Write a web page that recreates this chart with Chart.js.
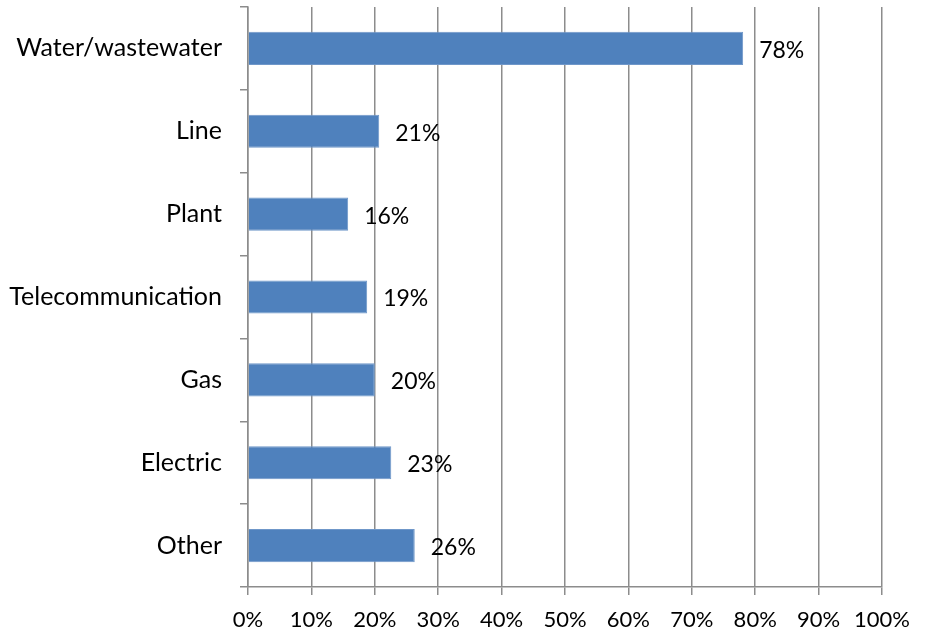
<!DOCTYPE html>
<html>
<head>
<meta charset="utf-8">
<script src="https://cdn.jsdelivr.net/npm/chart.js@4"></script>
<style>
  html, body { margin: 0; padding: 0; background: #fff; }
  #wrap { width: 929px; height: 635px; }
</style>
</head>
<body>
<div id="wrap"><canvas id="myChart"></canvas></div>
<script>
// data
const categories = ['Water/wastewater', 'Line', 'Plant', 'Telecommunication', 'Gas', 'Electric', 'Other'];
const percentValues = [78.1, 20.7, 15.8, 18.8, 20.0, 22.6, 26.3];
const percentLabels = ['78%', '21%', '16%', '19%', '20%', '23%', '26%'];
const xTicks = [0, 10, 20, 30, 40, 50, 60, 70, 80, 90, 100];

const fontFamily = 'Lato, "Open Sans", sans-serif';
const gridColor = '#8c8c8c';

// draws the value next to each bar
const valueLabels = {
    id: 'valueLabels',
    afterDatasetsDraw(chart) {
        const c = chart.ctx;
        const meta = chart.getDatasetMeta(0);
        c.save();
        c.font = '23px ' + fontFamily;
        c.fillStyle = '#000';
        c.textAlign = 'left';
        c.textBaseline = 'middle';
        meta.data.forEach((bar, i) => {
            c.fillText(percentLabels[i], bar.x + 16, bar.y + 2);
        });
        c.restore();
    }
};

const ctx = document.getElementById('myChart').getContext('2d');
const myChart = new Chart(ctx, {
    type: 'bar',
    data: {
        labels: categories,
        datasets: [{
            data: percentValues,
            backgroundColor: '#4f81bd',
            borderColor: '#6f97c9',
            borderWidth: 1,
            barPercentage: 0.8,
            categoryPercentage: 0.5
        }]
    },
    options: {
        indexAxis: 'y',
        responsive: true,
        maintainAspectRatio: false,
        animation: false,
        layout: { padding: { top: 7, right: 47, left: 0, bottom: 0 } },
        plugins: {
            legend: { display: false },
            tooltip: { enabled: false }
        },
        scales: {
            x: {
                min: 0,
                max: 100,
                afterBuildTicks: (axis) => { axis.ticks = xTicks.map(v => ({ value: v })); },
                afterFit: (axis) => {
                    axis.height = 48;
                    axis.paddingLeft = 0;
                    axis.paddingRight = 0;
                },
                grid: {
                    color: gridColor,
                    lineWidth: 1.5,
                    tickLength: 8,
                    drawTicks: true
                },
                border: { color: gridColor, width: 1.5 },
                ticks: {
                    color: '#000',
                    padding: 12,
                    maxRotation: 0,
                    font: { family: fontFamily, size: 22 },
                    callback: (v) => v + '%'
                }
            },
            y: {
                afterFit: (axis) => {
                    axis.width = 248;
                    axis.paddingTop = 0;
                    axis.paddingBottom = 0;
                },
                grid: {
                    drawOnChartArea: false,
                    color: gridColor,
                    lineWidth: 1.5,
                    tickLength: 8,
                    offset: true
                },
                border: { color: gridColor, width: 1.5 },
                ticks: {
                    color: '#000',
                    padding: 18,
                    font: { family: fontFamily, size: 25 }
                }
            }
        }
    },
    plugins: [valueLabels]
});
</script>
</body>
</html>
